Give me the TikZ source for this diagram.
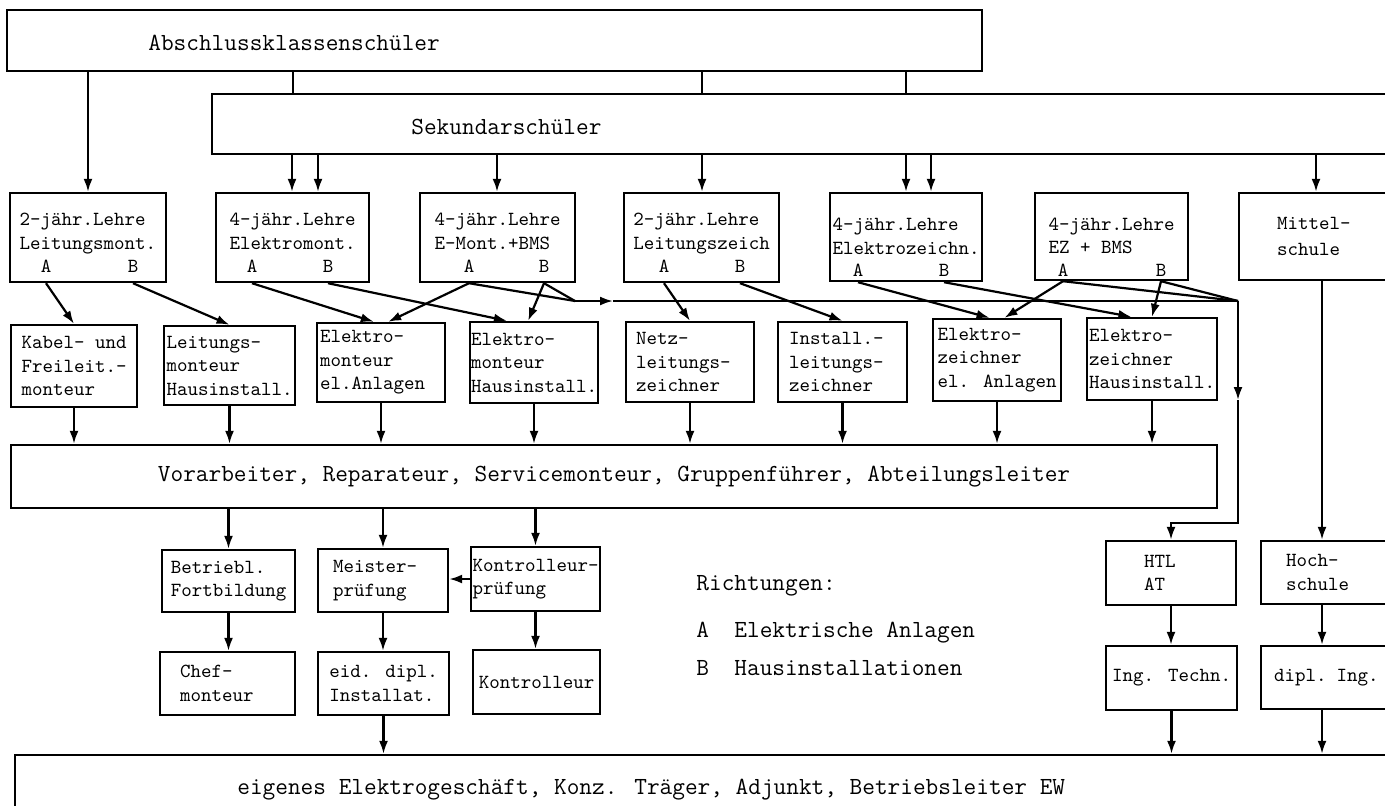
\documentclass[tikz,border=0pt]{standalone}
\usetikzlibrary{arrows.meta}
\newcommand{\boxfnt}{\ttfamily\fontsize{10}{11.75}\selectfont}
\newcommand{\bigfnt}{\ttfamily\fontsize{12.3}{14}\selectfont}
\tikzset{
  box/.style={draw, line width=1.2pt, inner sep=0pt, align=left, font=\boxfnt},
  abbox/.style={box, text height=14pt, text depth=2.5pt},
  spans/.style n args={4}{minimum width={(#3-#1)*0.5pt}, minimum height={(#4-#2)*0.5pt},
    at={({(#1+#3)/2},{(#2+#4)/2})}},
  letter/.style={inner sep=0pt, font=\boxfnt},
  bigtext/.style={inner sep=0pt, font=\bigfnt},
  arr/.style={-{Latex[length=6.5pt,width=4.5pt]}, line width=1.1pt},
  ln/.style={line width=1.1pt},
}
\begin{document}
\begin{tikzpicture}[x=0.5pt, y=-0.5pt]
\useasboundingbox (0,0) rectangle (1385,805);
\clip (0,0) rectangle (1385,805);

% Schulabgaenger
\node[box, spans={7}{10}{982}{71}] (abs) {};
\node[bigtext, anchor=west] (absT) at (148,43) {Abschlussklassenschüler};
\node[box, spans={212}{94}{1420}{154}] (sek) {};
\node[bigtext, anchor=west] (sekT) at (411,127) {Sekundarschüler};

% Lehren
\node[abbox, spans={10}{193}{166}{282}] (lm) {2-jähr.Lehre\\Leitungsmont.};
\node[abbox, spans={216}{193}{369}{282}] (em) {4-jähr.Lehre\\Elektromont.};
\node[abbox, spans={420}{193}{575}{282}] (eb) {4-jähr.Lehre\\E-Mont.+BMS};
\node[abbox, spans={624}{193}{779}{282}] (lz) {2-jähr.Lehre\\Leitungszeich};
\node[abbox, text height=18pt, text depth=1pt, spans={830}{193}{982}{281}] (ez) {4-jähr.Lehre\\Elektrozeichn.};
\node[abbox, text height=18pt, text depth=1pt, spans={1035}{193}{1188}{280}] (zb) {4-jähr.Lehre\\EZ + BMS};
\node[box, text width=45pt, spans={1239}{193}{1405}{280}] (mit) {Mittel-\\[1.5pt]schule};
\foreach \n/\a/\b/\y in {lm/46/133/266, em/252/328/266, eb/469/544/266,
    lz/664/740/266, ez/858/944/270, zb/1063/1161/270} {
  \node[letter] (\n A) at (\a,\y) {A};
  \node[letter] (\n B) at (\b,\y) {B};
}

% Berufe
\node[box, spans={11}{325}{137}{407}] (kab) {Kabel- und\\Freileit.-\\monteur};
\node[box, spans={164}{326}{295}{405}] (lmh) {Leitungs-\\monteur\\Hausinstall.};
\node[box, text width=61pt, spans={317}{323}{445}{402}] (ema) {Elektro-\\monteur\\el.Anlagen};
\node[box, spans={470}{322}{598}{403}] (emh) {Elektro-\\monteur\\Hausinstall.};
\node[box, text width=54pt, spans={626}{322}{754}{402}] (nz) {Netz-\\leitungs-\\zeichner};
\node[box, text width=53.5pt, spans={778}{322}{907}{402}] (il) {Install.-\\leitungs-\\zeichner};
\node[box, spans={933}{319}{1061}{401}] (eza) {Elektro-\\zeichner\\el. Anlagen};
\node[box, spans={1087}{318}{1217}{400}] (ezh) {Elektro-\\zeichner\\Hausinstall.};

\node[box, font=\bigfnt, spans={11}{445}{1217}{508}] (vor) {Vorarbeiter, Reparateur, Servicemonteur, Gruppenführer, Abteilungsleiter};

% Weiterbildung
\node[box, spans={162}{550}{295}{612}] (bf) {Betriebl.\\Fortbildung};
\node[box, text width=50pt, spans={318}{549}{448}{612}] (mp) {Meister-\\prüfung};
\node[box, spans={471}{547}{600}{611}] (kp) {Kontrolleur-\\prüfung};
\node[box, text width=27pt, spans={1106}{541}{1236}{605}] (htl) {HTL\\AT};
\node[box, text width=44.5pt, spans={1261}{541}{1400}{604}] (hs) {Hoch-\\schule};
\node[box, text width=47.5pt, spans={160}{652}{295}{715}] (cm) {Chef-\\monteur};
\node[box, spans={318}{652}{449}{715}] (ed) {eid. dipl.\\Installat.};
\node[box, spans={473}{650}{600}{714}] (ko) {Kontrolleur};
\node[box, spans={1106}{646}{1237}{710}] (it) {Ing. Techn.};
\node[box, text width=56.5pt, spans={1261}{646}{1400}{709}] (di) {dipl. Ing.};

\node[box, spans={15}{755}{1420}{850}] (bot) {};
\node[bigtext, anchor=west] (botT) at (237,790) {eigenes Elektrogeschäft, Konz. Träger, Adjunkt, Betriebsleiter EW};

% Legende
\node[bigtext, anchor=west] (legR) at (696,586) {Richtungen:};
\node[bigtext, anchor=west] (legA) at (696,633) {A\ \ Elektrische Anlagen};
\node[bigtext, anchor=west] (legB) at (696,668) {B\ \ Hausinstallationen};

% Verbindungen oben
\draw[arr] (lm.north |- abs.south) -- (lm.north);
\foreach \x in {293,702,906}
  \draw[ln] (\x,0 |- abs.south) -- (\x,0 |- sek.north);
\foreach \x in {292,318,497,702,906,931,1316}
  \draw[arr] (\x,0 |- sek.south) -- (\x,0 |- lm.north);

% Richtungen A und B
\draw[arr] (lmA |- lm.south) -- (kab.north);
\draw[arr] (lmB |- lm.south) -- (lmh.north);
\draw[arr] (emA |- em.south) -- (ema.100);
\draw[arr] (emB |- em.south) -- (emh.123);
\draw[arr] (ebA |- eb.south) -- (ema.80);
\draw[arr] (ebB |- eb.south) -- (emh.98);
\draw[arr] (lzA |- lz.south) -- (nz.north);
\draw[arr] (lzB |- lz.south) -- (il.north);
\draw[arr] (ezA |- ez.south) -- (eza.100);
\draw[arr] (ezB |- ez.south) -- (ezh.116);
\draw[arr] (zbA |- zb.south) -- (eza.80);
\draw[arr] (zbB |- zb.south) -- (ezh.north);

% BMS zur HTL
\coordinate (j1) at (575,301);
\coordinate (m1) at (613,301);
\coordinate (j2) at (1238,301);
\coordinate (m2) at (1238,400);
\coordinate (j3) at (1238,523);
\draw[ln] (ebA |- eb.south) -- (j1);
\draw[ln] (ebB |- eb.south) -- (j1);
\draw[ln] (zbA |- zb.south) -- (j2);
\draw[ln] (zbB |- zb.south) -- (j2);
\draw[arr] (j1) -- (m1);
\draw[ln] (m1) -- (j2);
\draw[arr] (j2) -- (m2);
\draw[arr] (m2) -- (j3) -| (htl.north);

% Verbindungen unten
\foreach \n in {kab,lmh,ema,emh,nz,il,eza,ezh}
  \draw[arr] (\n.south) -- (\n.south |- vor.north);
\foreach \n in {bf,mp,kp}
  \draw[arr] (\n.north |- vor.south) -- (\n.north);
\draw[arr] (kp.west) -- (kp.west -| mp.east);
\draw[arr] (bf.south) -- (bf.south |- cm.north);
\draw[arr] (mp.south) -- (mp.south |- ed.north);
\draw[arr] (kp.south) -- (kp.south |- ko.north);
\draw[arr] (ed.south) -- (ed.south |- bot.north);
\draw[arr] (mit.south) -- (mit.south |- hs.north);
\draw[arr] (mit.south |- hs.south) -- (mit.south |- di.north);
\draw[arr] (htl.south) -- (htl.south |- it.north);
\draw[arr] (it.south) -- (it.south |- bot.north);
\draw[arr] (mit.south |- di.south) -- (mit.south |- bot.north);
\end{tikzpicture}
\end{document}
